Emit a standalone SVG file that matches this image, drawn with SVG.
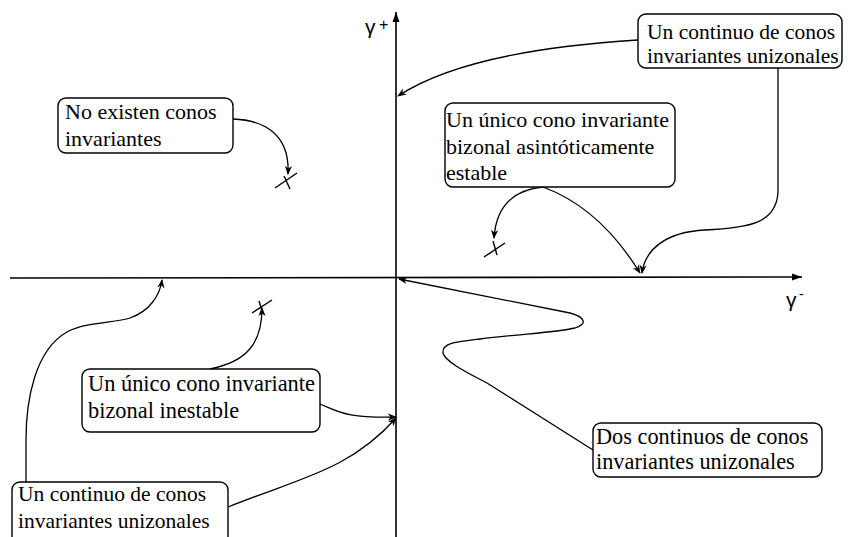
<svg xmlns="http://www.w3.org/2000/svg" width="848" height="537" viewBox="0 0 848 537">
<style>
.box{fill:#fff;stroke:#000;stroke-width:1.4}
.t{font-family:"Liberation Serif","Times New Roman",serif;font-size:21.5px;fill:#000}
.g{font-family:"Liberation Sans",Arial,sans-serif;fill:#000}
.ax{stroke:#000;stroke-width:1.6;fill:none}
.c{stroke:#000;stroke-width:1.3;fill:none;marker-end:url(#ah)}
.x{stroke:#000;stroke-width:1.4;fill:none}
</style>
<defs>
<marker id="ah" viewBox="0 0 10 10" refX="9" refY="5" markerWidth="9" markerHeight="9" markerUnits="userSpaceOnUse" orient="auto">
<path d="M0 1 L10 5 L0 9 L3 5 Z" fill="#000"/>
</marker>
<marker id="axh" viewBox="0 0 10 10" refX="10" refY="5" markerWidth="12" markerHeight="10" markerUnits="userSpaceOnUse" orient="auto">
<path d="M0 1.5 L10 5 L0 8.5 Z" fill="#000"/>
</marker>
</defs>
<rect width="848" height="537" fill="#fff"/>
<g id="axes">
<line class="ax" x1="10" y1="278" x2="802" y2="277" marker-end="url(#axh)"/>
<line class="ax" x1="396" y1="537" x2="396" y2="12" marker-end="url(#axh)"/>
<text class="g" x="365" y="34" font-size="21">γ</text>
<text class="g" x="379" y="30" font-size="16">+</text>
<text class="g" x="786" y="307" font-size="21">γ</text>
<text class="g" x="799" y="299" font-size="14">-</text>
</g>
<g id="marks">
<line class="x" x1="275" y1="188" x2="297" y2="173"/><line class="x" x1="284" y1="176" x2="290" y2="189"/>
<line class="x" x1="484" y1="257" x2="505" y2="243"/><line class="x" x1="493" y1="241" x2="497" y2="255"/>
<line class="x" x1="252" y1="313" x2="272" y2="300"/><line class="x" x1="259" y1="301" x2="263" y2="314"/>
</g>
<g id="connectors">
<path class="c" d="M638 40 C540 46 450 62 398 96"/>
<path class="c" d="M778 68 L778 190 C778 225 745 228 705 230 C665 232 645 250 642 273"/>
<path class="c" d="M543 187 C512 190 496 208 494 238"/>
<path class="c" d="M543 187 Q600 208 640 273"/>
<path class="c" d="M233 119 C265 120 290 135 288 174"/>
<path class="c" d="M210 369 C245 362 262 345 262 308"/>
<path class="c" d="M320 404 C340 412 345 418 396 417"/>
<path class="c" d="M26 482 L26 440 C26 400 35 350 67 332 C85 322 115 323 130 318 C150 311 160 295 162 280"/>
<path class="c" d="M228 507 C300 478 350 470 396 418"/>
<path class="c" d="M593 450 L487 383 C470 374 445 362 443 353 C442 343 455 342 480 339 C520 334 560 332 575 328 C588 324 585 317 570 313 L399 279"/>
</g>
<g id="n1">
<rect class="box" x="638" y="14" width="204" height="54" rx="8"/>
<text class="t" x="647" y="39">Un continuo de conos</text>
<text class="t" x="647" y="63">invariantes unizonales</text>
</g>
<g id="n2" style="font-size:22px">
<rect class="box" x="445" y="103" width="230" height="84" rx="8"/>
<text class="t" x="446" y="127" style="font-size:22px">Un único cono invariante</text>
<text class="t" x="446" y="154" style="font-size:22px">bizonal asintóticamente</text>
<text class="t" x="446" y="180" style="font-size:22px"> estable</text>
</g>
<g id="n3">
<rect class="box" x="58" y="98" width="175" height="55" rx="8"/>
<text class="t" x="65" y="119" style="font-size:22px">No existen conos</text>
<text class="t" x="65" y="146" style="font-size:22px">invariantes</text>
</g>
<g id="n4">
<rect class="box" x="82" y="369" width="238" height="63" rx="8"/>
<text class="t" x="88" y="391" style="font-size:22.4px">Un único cono invariante</text>
<text class="t" x="88" y="418" style="font-size:22.4px">bizonal inestable</text>
</g>
<g id="n5">
<rect class="box" x="12" y="482" width="216" height="64" rx="8"/>
<text class="t" x="18" y="501">Un continuo de conos</text>
<text class="t" x="18" y="528">invariantes unizonales</text>
</g>
<g id="n6">
<rect class="box" x="593" y="423" width="229" height="54" rx="8"/>
<text class="t" x="596" y="444" style="font-size:22.3px">Dos continuos de conos</text>
<text class="t" x="596" y="469" style="font-size:22.3px">invariantes unizonales</text>
</g>
</svg>
